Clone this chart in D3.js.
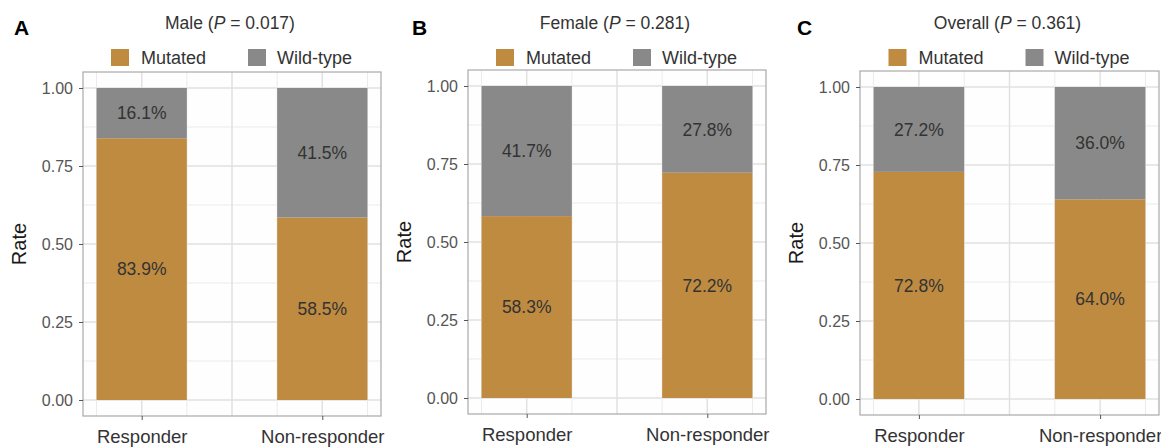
<!DOCTYPE html>
<html lang="en">
<head>
<meta charset="UTF-8">
<title>Rate by response</title>
<script src="https://d3js.org/d3.v7.min.js"></script>
<style>
  body { margin: 0; background: #fff; }
  text { font-family: "Liberation Sans", Arial, sans-serif; }
</style>
</head>
<body>
<svg id="chart" width="1161" height="447"></svg>
<script>
// data
const groups = ["Responder", "Non-responder"];
const letters = ["A", "B", "C"];
const titles = ["Male", "Female", "Overall"];
const pValues = ["0.017", "0.281", "0.361"];
const mutated = [[83.9, 58.5], [58.3, 72.2], [72.8, 64.0]];
const wildType = [[16.1, 41.5], [41.7, 27.8], [27.2, 36.0]];
const yTicks = [0, 0.25, 0.5, 0.75, 1];
const legendKeys = ["Mutated", "Wild-type"];

const colors = {"Mutated": "#bf8b41", "Wild-type": "#888988"};

// panel boxes (plot area)
const panels = [
  {left: 83, right: 381, y1: 88, y0: 400, top: 72, bottom: 416, letterX: 14},
  {left: 468, right: 766, y1: 86, y0: 398, top: 70, bottom: 414, letterX: 412},
  {left: 860, right: 1159, y1: 87, y0: 399, top: 71, bottom: 415, letterX: 797}
];

const svg = d3.select("#chart");

panels.forEach((p, k) => {
  const g = svg.append("g");
  const x = d3.scaleLinear().domain([0.675, 2.325]).range([p.left, p.right]);
  const y = d3.scaleLinear().domain([0, 1]).range([p.y0, p.y1]);
  const cx = (p.left + p.right) / 2;

  // panel background
  g.append("rect")
    .attr("x", p.left).attr("y", p.top)
    .attr("width", p.right - p.left).attr("height", p.bottom - p.top)
    .attr("fill", "#fefefe");

  // grid
  const yMinor = d3.range(0.125, 1.1, 0.25);
  g.selectAll("line.ymin").data(yMinor).enter().append("line")
    .attr("x1", p.left).attr("x2", p.right)
    .attr("y1", d => y(d)).attr("y2", d => y(d))
    .attr("stroke", "#ebebeb").attr("stroke-width", 1);
  g.selectAll("line.ymaj").data(yTicks).enter().append("line")
    .attr("x1", p.left).attr("x2", p.right)
    .attr("y1", d => y(d)).attr("y2", d => y(d))
    .attr("stroke", "#e1e1e1").attr("stroke-width", 1.5);
  g.selectAll("line.xg").data([0.75, 1, 1.25, 1.5, 1.75, 2, 2.25]).enter().append("line")
    .attr("y1", p.top).attr("y2", p.bottom)
    .attr("x1", d => x(d)).attr("x2", d => x(d))
    .attr("stroke", d => (d % 0.5 === 0 ? "#e1e1e1" : "#ebebeb"))
    .attr("stroke-width", d => (d % 0.5 === 0 ? 1.5 : 1));

  // stacked bars
  const rows = groups.map((grp, i) => ({
    grp: grp, pos: i + 1, mut: mutated[k][i] / 100, wt: wildType[k][i] / 100
  }));
  const bw = 0.5;
  rows.forEach(r => {
    g.append("rect")
      .attr("x", x(r.pos - bw / 2)).attr("width", x(r.pos + bw / 2) - x(r.pos - bw / 2))
      .attr("y", y(r.mut)).attr("height", y(0) - y(r.mut))
      .attr("fill", colors["Mutated"]);
    g.append("rect")
      .attr("x", x(r.pos - bw / 2)).attr("width", x(r.pos + bw / 2) - x(r.pos - bw / 2))
      .attr("y", y(r.mut + r.wt)).attr("height", y(r.mut) - y(r.mut + r.wt))
      .attr("fill", colors["Wild-type"]);
    g.append("text")
      .attr("x", x(r.pos)).attr("y", y(r.mut / 2))
      .attr("text-anchor", "middle").attr("dy", "0.36em")
      .attr("font-size", 17.5).attr("fill", "#333")
      .text(d3.format(".1f")(r.mut * 100) + "%");
    g.append("text")
      .attr("x", x(r.pos)).attr("y", y(r.mut + r.wt / 2))
      .attr("text-anchor", "middle").attr("dy", "0.36em")
      .attr("font-size", 17.5).attr("fill", "#333")
      .text(d3.format(".1f")(r.wt * 100) + "%");
  });

  // border
  g.append("rect")
    .attr("x", p.left).attr("y", p.top)
    .attr("width", p.right - p.left).attr("height", p.bottom - p.top)
    .attr("fill", "none").attr("stroke", "#a9a9a9").attr("stroke-width", 1.2);

  // y axis
  const yAxis = g.append("g").attr("transform", `translate(${p.left},0)`)
    .call(d3.axisLeft(y).tickValues(yTicks).tickFormat(d3.format(".2f")).tickSize(4).tickPadding(6));
  yAxis.select(".domain").remove();
  yAxis.selectAll("line").attr("stroke", "#555");
  yAxis.selectAll("text").attr("font-size", 16).attr("fill", "#555")
    .style("font-family", "'Liberation Sans', Arial, sans-serif");

  // x axis
  const xAxis = g.append("g").attr("transform", `translate(0,${p.bottom})`)
    .call(d3.axisBottom(x).tickValues([1, 2]).tickFormat(d => groups[d - 1]).tickSize(4).tickPadding(10));
  xAxis.select(".domain").remove();
  xAxis.selectAll("line").attr("stroke", "#555");
  xAxis.selectAll("text").attr("font-size", 18.5).attr("fill", "#333")
    .style("font-family", "'Liberation Sans', Arial, sans-serif");

  // y title
  g.append("text")
    .attr("transform", `translate(${p.left - 64},${(p.y0 + p.y1) / 2}) rotate(-90)`)
    .attr("text-anchor", "middle").attr("dy", "0.36em")
    .attr("font-size", 20).attr("fill", "#1a1a1a")
    .text("Rate");

  // panel title
  const t = g.append("text")
    .attr("x", cx - 2).attr("y", 29)
    .attr("text-anchor", "middle").attr("font-size", 17.5).attr("fill", "#333");
  t.append("tspan").text(titles[k] + " (");
  t.append("tspan").attr("font-style", "italic").text("P");
  t.append("tspan").text(" = " + pValues[k] + ")");

  // letter
  g.append("text")
    .attr("x", p.letterX).attr("y", 35)
    .attr("font-size", 21).attr("font-weight", "bold").attr("fill", "#000")
    .text(letters[k]);

  // legend
  const lg = g.append("g").attr("transform", `translate(${cx - 121},49)`);
  const offs = [0, 137];
  legendKeys.forEach((key, j) => {
    lg.append("rect")
      .attr("x", offs[j]).attr("y", 0).attr("width", 18).attr("height", 17)
      .attr("fill", colors[key]);
    lg.append("text")
      .attr("x", offs[j] + 30 - j).attr("y", 14.5)
      .attr("font-size", 18).attr("fill", "#333")
      .text(key);
  });
});
</script>
</body>
</html>
